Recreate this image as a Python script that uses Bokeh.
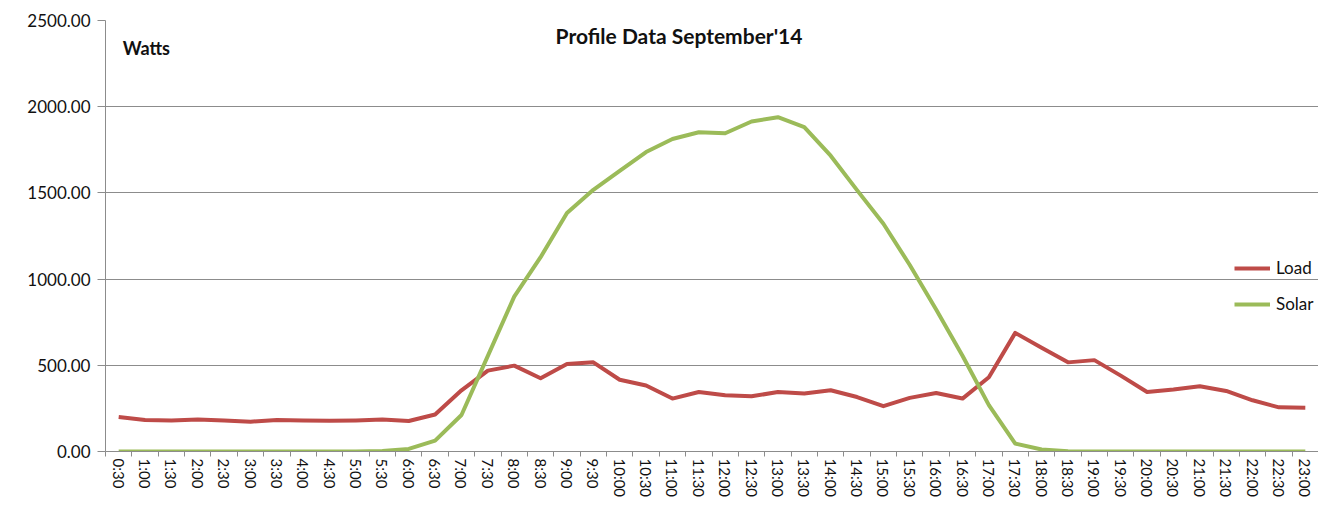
from bokeh.plotting import figure
from bokeh.models import (Range1d, LinearAxis, FixedTicker, NumeralTickFormatter,
                          Label, Legend, LegendItem)
from bokeh.embed import file_html
from bokeh.resources import INLINE

times = ["0:30", "1:00", "1:30", "2:00", "2:30", "3:00", "3:30", "4:00", "4:30", "5:00",
         "5:30", "6:00", "6:30", "7:00", "7:30", "8:00", "8:30", "9:00", "9:30", "10:00",
         "10:30", "11:00", "11:30", "12:00", "12:30", "13:00", "13:30", "14:00", "14:30", "15:00",
         "15:30", "16:00", "16:30", "17:00", "17:30", "18:00", "18:30", "19:00", "19:30", "20:00",
         "20:30", "21:00", "21:30", "22:00", "22:30", "23:00"]

load = [200, 183, 180, 185, 180, 173, 183, 180, 178, 180,
        185, 177, 215, 355, 469, 498, 425, 507, 517, 416,
        383, 307, 345, 326, 320, 345, 336, 355, 316, 263,
        311, 339, 307, 431, 688, 602, 517, 530, 440, 345,
        359, 378, 351, 297, 256, 254]

solar = [0, 0, 0, 0, 0, 0, 0, 0, 0, 0,
         3, 15, 63, 212, 555, 898, 1127, 1384, 1518, 1628,
         1737, 1813, 1852, 1846, 1914, 1939, 1882, 1716, 1516, 1321,
         1082, 824, 555, 269, 46, 12, 2, 0, 0, 0,
         0, 0, 0, 0, 0, 0]

y_ticks = [0, 500, 1000, 1500, 2000, 2500]
series_names = ["Load", "Solar"]
title_text = "Profile Data September'14"
unit_text = "Watts"

FONT = "Lato"
GRAY = "#8c8c8c"
RED = "#BE4B48"
GREEN = "#9BBB59"

n = len(times)
centres = [i + 0.5 for i in range(n)]     # category centres on a 0..n axis
edges = list(range(n + 1))                 # category boundaries

p = figure(width=1318, height=500, x_range=Range1d(0, n),
           y_range=Range1d(0, 2500), output_backend="svg", toolbar_location=None,
           x_axis_location=None, min_border_left=105, min_border_right=0,
           min_border_top=20, min_border_bottom=0)
p.outline_line_color = None
p.background_fill_color = "white"

# y axis
p.yaxis.ticker = FixedTicker(ticks=y_ticks)
p.yaxis.formatter = NumeralTickFormatter(format="0.00")
p.yaxis.axis_line_color = GRAY
p.yaxis.major_tick_line_color = GRAY
p.yaxis.major_tick_out = 8
p.yaxis.major_tick_in = 0
p.yaxis.minor_tick_line_color = None
p.yaxis.major_label_standoff = 7
p.yaxis.major_label_text_font = FONT
p.yaxis.major_label_text_font_size = "17px"
p.yaxis.major_label_text_color = "#111111"

p.ygrid.grid_line_color = GRAY
p.ygrid.grid_line_width = 1
p.xgrid.visible = False

# x axis: tick marks at category boundaries, labels at category centres
edge_axis = LinearAxis(ticker=FixedTicker(ticks=edges),
                       axis_line_color=GRAY, major_tick_line_color=GRAY,
                       major_tick_out=5, major_tick_in=0, minor_tick_line_color=None,
                       major_label_text_font_size="0px", major_label_text_alpha=0,
                       major_label_standoff=0)
p.add_layout(edge_axis, "below")

label_axis = LinearAxis(ticker=FixedTicker(ticks=centres),
                        major_label_overrides={c: t for c, t in zip(centres, times)},
                        axis_line_color=None, major_tick_line_color=None,
                        major_tick_out=0, major_tick_in=0, minor_tick_line_color=None,
                        major_label_orientation="vertical", major_label_standoff=2,
                        major_label_text_font=FONT, major_label_text_font_size="15px",
                        major_label_text_color="#111111")
p.add_layout(label_axis, "below")

r_load = p.line(centres, load, line_color=RED, line_width=4, line_join="round")
r_solar = p.line(centres, solar, line_color=GREEN, line_width=4, line_join="round")

legend = Legend(items=[LegendItem(label=series_names[0], renderers=[r_load]),
                       LegendItem(label=series_names[1], renderers=[r_solar])],
                location=(1129, 137), glyph_width=36, glyph_height=20, label_height=20,
                label_standoff=6, spacing=15, padding=0, margin=0,
                background_fill_alpha=0, border_line_color=None,
                label_text_font=FONT, label_text_font_size="17px",
                label_text_color="#111111")
p.add_layout(legend)

p.add_layout(Label(x=21.75, y=2415, text=title_text, text_align="center",
                   text_baseline="middle", text_font=FONT, text_font_style="bold",
                   text_font_size="21px", text_color="#111111"))
p.add_layout(Label(x=0.65, y=2340, text=unit_text, text_align="left",
                   text_baseline="middle", text_font=FONT, text_font_style="bold",
                   text_font_size="18px", text_color="#111111"))

open("out.html", "w").write(file_html(p, INLINE))
